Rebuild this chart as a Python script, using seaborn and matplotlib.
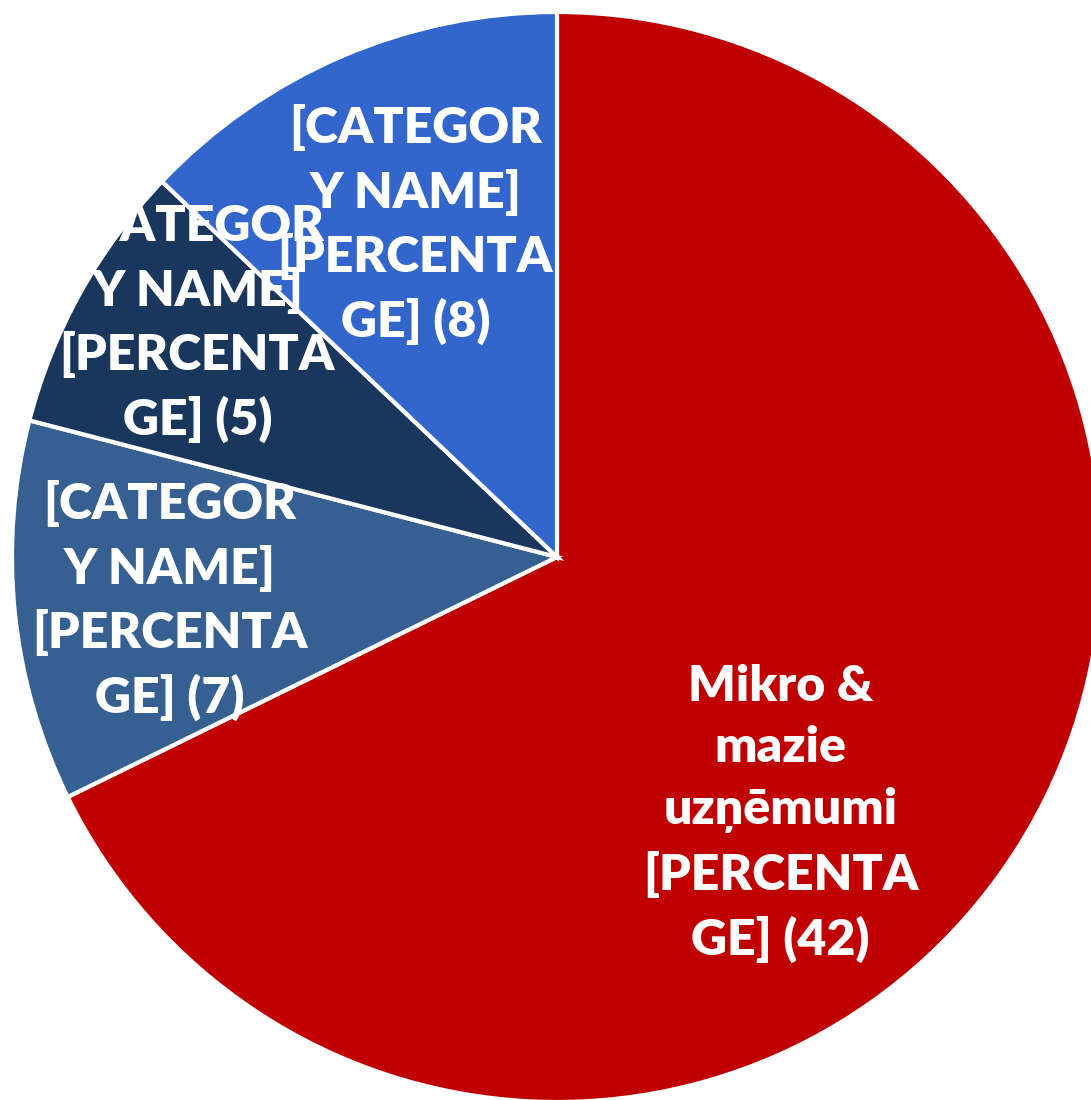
import matplotlib
matplotlib.use("Agg")
import matplotlib.pyplot as plt
import seaborn as sns

# slices, clockwise from 12 o'clock
values = [42, 7, 5, 8]
labels = [
    "Mikro &\nmazie\nuzņēmumi\n[PERCENTA\nGE] (42)",
    "[CATEGOR\nY NAME]\n[PERCENTA\nGE] (7)",
    "[CATEGOR\nY NAME]\n[PERCENTA\nGE] (5)",
    "[CATEGOR\nY NAME]\n[PERCENTA\nGE] (8)",
]
colors = ["#C00000", "#376092", "#19365D", "#3366CC"]
# label placement (pie units, radius = 1)
label_x = [0.41, -0.71, -0.66, -0.26]
label_y = [-0.47, -0.08, 0.43, 0.61]

sns.set_theme(style="white")
plt.rcParams["font.family"] = ["Lato", "DejaVu Sans"]

fig = plt.figure(figsize=(10.91, 11.0), dpi=100)
# pie centre at (557, 557) px, radius 545 px
ax = fig.add_axes([12 / 1091, -2 / 1100, 1090 / 1091, 1090 / 1100])

ax.pie(
    values,
    colors=colors,
    startangle=90,
    counterclock=False,
    radius=1,
    wedgeprops=dict(edgecolor="white", linewidth=3),
)

for txt, x, y in zip(labels, label_x, label_y):
    ax.text(x, y, txt, ha="center", va="center", multialignment="center",
            color="white", fontsize=36, fontweight="heavy", linespacing=1.45)

ax.set_xlim(-1, 1)
ax.set_ylim(-1, 1)
ax.set_aspect("equal")
ax.axis("off")

fig.savefig("out.png", dpi=100)
